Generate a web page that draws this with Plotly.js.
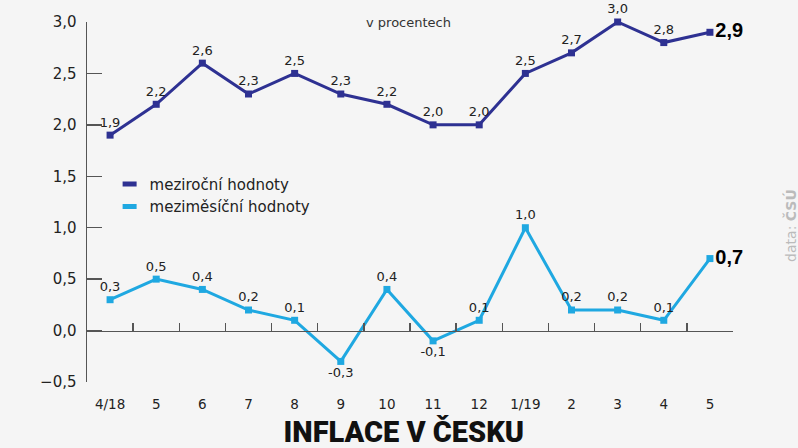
<!DOCTYPE html>
<html>
<head>
<meta charset="utf-8">
<script src="https://cdn.plot.ly/plotly-3.0.1.min.js"></script>
<style>html,body{margin:0;padding:0;background:#f5f5f5;}#chart{width:798px;height:448px;}</style>
</head>
<body>
<div id="chart"></div>
<script>
const categories = ['4/18','5','6','7','8','9','10','11','12','1/19','2','3','4','5'];
const yearly = [1.9, 2.2, 2.6, 2.3, 2.5, 2.3, 2.2, 2.0, 2.0, 2.5, 2.7, 3.0, 2.8, 2.9];
const monthly = [0.3, 0.5, 0.4, 0.2, 0.1, -0.3, 0.4, -0.1, 0.1, 1.0, 0.2, 0.2, 0.1, 0.7];
const yearlyName = 'meziroční hodnoty';
const monthlyName = 'meziměsíční hodnoty';

const DARK = '#2e3192';
const LIGHT = '#1fa8e1';
const FONT = 'DejaVu Sans, sans-serif';

const idx = categories.map((_, i) => i);
const fmt = v => v.toFixed(1).replace('.', ',');
const last = categories.length - 1;

function labelTexts(vals) {
  return vals.map((v, i) => i === last ? '<b>' + fmt(v) + '</b>' : fmt(v));
}
function labelPos(vals) {
  return vals.map((v, i) => i === last ? 'middle right' : (v < 0 ? 'bottom center' : 'top center'));
}
function labelSize(vals) { return vals.map((v, i) => i === last ? 20 : 13); }
function labelColor(vals) { return vals.map((v, i) => i === last ? '#000' : '#222'); }
function labelFamily(vals) { return vals.map((v, i) => i === last ? 'Liberation Sans, sans-serif' : FONT); }

const traces = [
  {
    x: idx, y: yearly, name: yearlyName, type: 'scatter', mode: 'lines+markers+text',
    line: {color: DARK, width: 3}, marker: {color: DARK, size: 7, symbol: 'square'},
    text: labelTexts(yearly), textposition: labelPos(yearly),
    textfont: {family: labelFamily(yearly), size: labelSize(yearly), color: labelColor(yearly)},
    showlegend: false, cliponaxis: false, hoverinfo: 'skip'
  },
  {
    x: idx, y: monthly, name: monthlyName, type: 'scatter', mode: 'lines+markers+text',
    xaxis: 'x2', yaxis: 'y',
    line: {color: LIGHT, width: 3}, marker: {color: LIGHT, size: 7, symbol: 'square'},
    text: labelTexts(monthly), textposition: labelPos(monthly),
    textfont: {family: labelFamily(monthly), size: labelSize(monthly), color: labelColor(monthly)},
    showlegend: false, cliponaxis: false, hoverinfo: 'skip'
  },
  {
    x: [null], y: [null], name: yearlyName, type: 'scatter', mode: 'markers',
    marker: {symbol: 'line-ew', size: 10, line: {color: DARK, width: 5}}, showlegend: true
  },
  {
    x: [null], y: [null], name: monthlyName, type: 'scatter', mode: 'markers',
    marker: {symbol: 'line-ew', size: 10, line: {color: LIGHT, width: 5}}, showlegend: true
  }
];

const layout = {
  width: 798, height: 448,
  margin: {l: 87, r: 65, t: 22, b: 66},
  paper_bgcolor: '#f5f5f5', plot_bgcolor: 'rgba(0,0,0,0)',
  separators: ', ',
  font: {family: FONT, color: '#222'},
  title: {
    text: 'INFLACE V ČESKU',
    font: {family: 'Roboto, sans-serif', size: 29, color: '#111', weight: 900},
    x: 0.506, xanchor: 'center', y: 0.036, yanchor: 'middle', xref: 'container', yref: 'container'
  },
  xaxis: {
    range: [-0.5, 13.5], tickmode: 'array', tickvals: idx, ticktext: categories,
    showline: false, ticks: '', showgrid: false, zeroline: false,
    tickfont: {family: FONT, size: 13.5, color: '#222'}, ticklabelstandoff: 12
  },
  xaxis2: {
    overlaying: 'x', anchor: 'free', position: 1/7,
    range: [-0.5, 13.5], tickmode: 'linear', tick0: -0.5, dtick: 1,
    ticks: 'inside', ticklen: 8, tickcolor: '#555', tickwidth: 1.5,
    showline: true, linecolor: '#555', linewidth: 1.5,
    showticklabels: false, showgrid: false, zeroline: false
  },
  yaxis: {
    range: [-0.5, 3.0], tickmode: 'linear', tick0: 0, dtick: 0.5, tickformat: '.1f',
    ticks: 'inside', ticklen: 15, tickcolor: '#555', tickwidth: 1.5,
    showline: true, linecolor: '#555', linewidth: 1.5,
    showgrid: false, zeroline: false,
    tickfont: {family: FONT, size: 15, color: '#222'}, ticklabelstandoff: 6
  },
  legend: {
    x: 0.035, y: 0.595, xanchor: 'left', yanchor: 'top',
    bgcolor: 'rgba(0,0,0,0)', font: {family: FONT, size: 15, color: '#222'},
    itemwidth: 30, tracegroupgap: 0
  },
  annotations: [
    {text: 'v procentech', xref: 'paper', yref: 'paper', x: 0.497, y: 1.0,
     xanchor: 'center', yanchor: 'middle', showarrow: false,
     font: {family: FONT, size: 13, color: '#333'}},
    {text: 'data: <b>ČSÚ</b>', xref: 'paper', yref: 'paper', x: 1.088, y: 0.436,
     xanchor: 'center', yanchor: 'middle', showarrow: false, textangle: -90,
     font: {family: FONT, size: 14, color: '#bbb'}}
  ],
  showlegend: true
};

Plotly.newPlot('chart', traces, layout, {staticPlot: true, displayModeBar: false});
</script>
</body>
</html>
